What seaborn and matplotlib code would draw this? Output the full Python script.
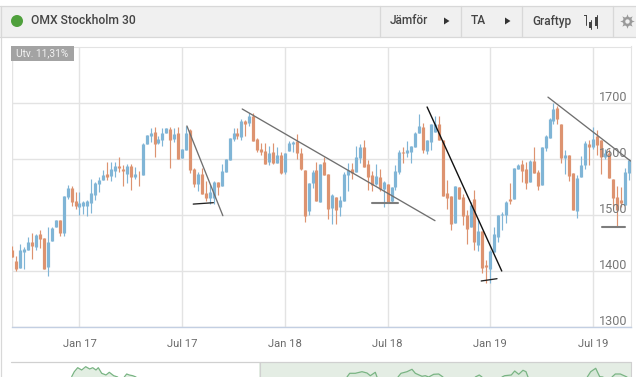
import matplotlib
matplotlib.use("Agg")
import matplotlib.pyplot as plt
from matplotlib.patches import Circle, Polygon, Rectangle
import numpy as np
import pandas as pd
import seaborn as sns

# Weekly candles, U = rising (blue), D = falling (orange)
moves = ("DDUUUDUDDU" "UUDUUDDUUU" "UUUUDUUDDU" "DUDUUUDUUU" "DUDUUDDUDD" "UUDUUUUDUD"
         "UDDDDUDUDU" "UUDDDUUDUD" "DUDUUUDUUD" "DDUDUDUUUD" "UUUUDUUUDD" "DDUDDDUDUD"
         "DUUUUUDUUD" "DUDDUUUUDD" "UDDUUUDUDD" "UDDDDUU")

highs = [1445, 1427, 1449, 1443, 1461, 1468, 1467, 1474, 1460, 1479,
         1479, 1492, 1492, 1535, 1554, 1552, 1542, 1542, 1526, 1527,
         1565, 1560, 1568, 1581, 1595, 1595, 1595, 1604, 1590, 1592,
         1592, 1586, 1579, 1629, 1643, 1656, 1658, 1642, 1656, 1656,
         1658, 1656, 1658, 1618, 1660, 1654, 1585, 1577, 1585, 1561,
         1556, 1561, 1560, 1592, 1601, 1638, 1656, 1656, 1672, 1670,
         1683, 1683, 1638, 1629, 1629, 1624, 1629, 1622, 1613, 1611,
         1633, 1633, 1645, 1620, 1581, 1558, 1581, 1595, 1592, 1604,
         1574, 1538, 1533, 1535, 1577, 1593, 1593, 1624, 1627, 1635,
         1599, 1579, 1592, 1583, 1561, 1556, 1551, 1590, 1617, 1622,
         1633, 1624, 1649, 1681, 1664, 1635, 1663, 1677, 1677, 1635,
         1563, 1535, 1552, 1551, 1538, 1510, 1524, 1545, 1492, 1472,
         1420, 1438, 1479, 1501, 1506, 1526, 1558, 1585, 1592, 1599,
         1595, 1599, 1622, 1581, 1622, 1643, 1674, 1701, 1695, 1663,
         1617, 1608, 1576, 1572, 1606, 1633, 1635, 1658, 1652, 1635,
         1618, 1618, 1565, 1552, 1551, 1585, 1601]

body_tops = [1438, 1418, 1438, 1440, 1452, 1452, 1465, 1467, 1460, 1452,
             1477, 1492, 1492, 1535, 1549, 1549, 1526, 1522, 1524, 1526,
             1540, 1558, 1563, 1572, 1574, 1583, 1588, 1588, 1583, 1588,
             1588, 1574, 1574, 1627, 1643, 1647, 1649, 1636, 1647, 1656,
             1654, 1645, 1647, 1618, 1647, 1652, 1583, 1574, 1574, 1540,
             1542, 1560, 1560, 1579, 1601, 1638, 1647, 1647, 1668, 1668,
             1677, 1677, 1636, 1618, 1615, 1611, 1613, 1608, 1608, 1611,
             1629, 1631, 1633, 1611, 1581, 1558, 1577, 1581, 1592, 1595,
             1574, 1536, 1533, 1527, 1574, 1581, 1583, 1604, 1622, 1622,
             1592, 1572, 1570, 1568, 1560, 1556, 1551, 1579, 1613, 1613,
             1617, 1624, 1647, 1660, 1658, 1635, 1663, 1663, 1663, 1635,
             1540, 1535, 1552, 1551, 1533, 1501, 1518, 1529, 1472, 1472,
             1411, 1436, 1467, 1501, 1502, 1523, 1529, 1585, 1590, 1592,
             1583, 1597, 1597, 1577, 1622, 1642, 1672, 1690, 1692, 1663,
             1608, 1608, 1576, 1567, 1590, 1629, 1627, 1636, 1642, 1635,
             1611, 1611, 1565, 1533, 1527, 1577, 1599]

body_bottoms = [1426, 1404, 1406, 1435, 1438, 1445, 1443, 1458, 1404, 1408,
                1454, 1479, 1468, 1468, 1533, 1524, 1517, 1515, 1517, 1517,
                1522, 1536, 1556, 1563, 1568, 1570, 1579, 1585, 1579, 1574,
                1568, 1568, 1573, 1572, 1627, 1642, 1627, 1629, 1635, 1647,
                1635, 1636, 1601, 1602, 1617, 1581, 1556, 1556, 1538, 1531,
                1531, 1531, 1551, 1552, 1577, 1599, 1636, 1642, 1640, 1663,
                1665, 1633, 1617, 1613, 1592, 1595, 1593, 1593, 1576, 1577,
                1615, 1627, 1611, 1583, 1499, 1508, 1558, 1526, 1524, 1572,
                1511, 1513, 1510, 1515, 1526, 1572, 1576, 1577, 1602, 1586,
                1568, 1554, 1556, 1547, 1547, 1524, 1526, 1551, 1577, 1612,
                1611, 1613, 1622, 1647, 1617, 1615, 1631, 1649, 1635, 1535,
                1531, 1485, 1486, 1529, 1499, 1476, 1479, 1452, 1447, 1406,
                1408, 1404, 1434, 1461, 1501, 1501, 1526, 1529, 1583, 1579,
                1558, 1560, 1576, 1552, 1554, 1620, 1638, 1668, 1672, 1602,
                1602, 1570, 1510, 1508, 1568, 1590, 1622, 1622, 1626, 1604,
                1604, 1567, 1531, 1510, 1522, 1518, 1576]

lows = [1426, 1401, 1406, 1404, 1438, 1422, 1438, 1442, 1404, 1392,
        1454, 1479, 1463, 1463, 1529, 1517, 1512, 1501, 1502, 1499,
        1504, 1527, 1542, 1563, 1563, 1561, 1568, 1577, 1552, 1558,
        1545, 1565, 1552, 1572, 1627, 1631, 1604, 1627, 1624, 1647,
        1585, 1631, 1601, 1602, 1617, 1576, 1551, 1543, 1538, 1526,
        1521, 1521, 1536, 1552, 1577, 1599, 1633, 1636, 1635, 1642,
        1660, 1633, 1613, 1608, 1592, 1590, 1592, 1593, 1574, 1574,
        1615, 1613, 1601, 1581, 1488, 1501, 1549, 1526, 1524, 1572,
        1493, 1485, 1484, 1499, 1526, 1543, 1565, 1577, 1593, 1586,
        1545, 1543, 1554, 1543, 1515, 1522, 1522, 1545, 1574, 1593,
        1604, 1593, 1622, 1647, 1611, 1609, 1617, 1649, 1635, 1535,
        1511, 1474, 1486, 1529, 1483, 1449, 1479, 1438, 1437, 1397,
        1379, 1379, 1434, 1452, 1474, 1486, 1520, 1529, 1583, 1560,
        1547, 1560, 1576, 1545, 1554, 1615, 1638, 1663, 1663, 1593,
        1574, 1561, 1510, 1495, 1568, 1583, 1590, 1618, 1608, 1574,
        1601, 1567, 1517, 1479, 1515, 1518, 1563]

tick_weeks = [17, 43, 69, 95, 121, 147]
tick_labels = ["Jan 17", "Jul 17", "Jan 18", "Jul 18", "Jan 19", "Jul 19"]
price_levels = [1300, 1400, 1500, 1600, 1700]

# Hand drawn trend lines: (week, price) pairs
gray_trends = [([44.2, 53.3], [1659.5, 1499.3]),
               ([58.2, 107.0], [1689.8, 1490.4]),
               ([135.6, 156.5], [1711.0, 1597.0])]
black_trend = ([105.0, 123.9], [1693.4, 1400.5])
dark_supports = [([45.8, 50.9], [1520.0, 1522.5]),
                 ([118.7, 122.7], [1382.7, 1386.8])]
gray_supports = [([91.0, 97.6], [1522.5, 1522.5]),
                 ([149.3, 155.1], [1479.0, 1479.0])]

# Overview strip below the chart, pieces of the line that show above the crop
nav_pieces = [
    ([60.7, 63.3, 66.7, 70.7, 74.7, 78.7, 81.7, 85.0, 87.3, 90.7, 95.0, 98.3, 102.7, 106.7],
     [0.3, 5.3, 9.3, 7.0, 10.3, 8.0, 9.3, 7.0, 9.3, 3.7, 2.0, 4.7, 1.3, 0.0]),
    ([113.3, 115.7, 118.3, 121.7, 125.0], [0.0, 3.0, 2.0, 1.3, 0.0]),
    ([336.0, 338.7, 344.3, 351.0, 356.0, 359.3, 364.3, 366.0],
     [0.0, 3.7, 3.7, 5.3, 4.0, 1.3, 4.7, 0.0]),
    ([387.0, 390.0, 396.0, 401.0, 404.3, 411.0, 414.3, 417.7, 422.7, 427.7, 432.0],
     [0.0, 3.7, 5.3, 7.7, 3.7, 0.7, 1.3, 0.0, 2.7, 3.0, 0.0]),
    ([464.3, 468.3, 471.0], [0.0, 2.0, 0.0]),
    ([491.0, 493.7, 500.3, 503.7, 507.7, 512.0, 515.0, 517.0],
     [0.0, 1.3, 2.0, 6.0, 2.7, 6.7, 5.3, 0.0]),
    ([576.3, 579.7, 584.7, 588.7, 592.0], [0.0, 5.3, 8.7, 0.3, 0.0]),
    ([601.0, 604.3, 609.3, 616.0], [0.0, 3.0, 3.0, 0.0]),
]
nav_window_start = 248

BLUE = "#80b5d6"
ORANGE = "#dd9370"
GRID = "#e3e3e3"

sns.set_theme(style="white")
plt.rcParams["font.family"] = ["Roboto", "DejaVu Sans"]

W, H = 636, 377
fig = plt.figure(figsize=(W / 100, H / 100), dpi=100, facecolor="white")

# Candle frame, placed by pixels
left, right, top, bottom = 12.0, 631.0, 46.5, 327.3
ax = fig.add_axes([left / W, 1 - bottom / H, (right - left) / W, (bottom - top) / H])

week = np.arange(len(moves))
direction = list(moves)
wicks = pd.DataFrame({
    "week": np.r_[week, week],
    "price": np.r_[highs, lows],
    "move": direction + direction,
})
bodies = pd.DataFrame({
    "week": np.r_[week, week],
    "price": np.r_[body_tops, body_bottoms],
    "move": direction + direction,
})
palette = {"U": BLUE, "D": ORANGE}
for frame, width in ((wicks, 0.85), (bodies, 2.3)):
    sns.lineplot(data=frame, x="week", y="price", hue="move", units="week",
                 estimator=None, palette=palette, linewidth=width, legend=False,
                 solid_capstyle="butt", ax=ax, zorder=3)

for xs, ys in gray_trends:
    ax.plot(xs, ys, color="#6f6f6f", lw=0.95, zorder=4)
ax.plot(*black_trend, color="#111111", lw=1.0, zorder=4)
for xs, ys in dark_supports:
    ax.plot(xs, ys, color="#222222", lw=0.95, zorder=4)
for xs, ys in gray_supports:
    ax.plot(xs, ys, color="#7d7d7d", lw=1.5, zorder=4)

ax.set_xlim(-0.08, 156.62)
ax.set_ylim(1300, 1801.4)
ax.set_xticks(tick_weeks, tick_labels)
ax.set_yticks(price_levels)
ax.set_xlabel("")
ax.set_ylabel("")
ax.tick_params(axis="y", left=False, labelleft=False)
ax.tick_params(axis="x", bottom=False, pad=2.3, labelsize=8.1, labelcolor="#6b6b6b")
ax.grid(True, color=GRID, lw=1.0)
ax.axvline(0.0, color=GRID, lw=1.0, zorder=1)
ax.set_axisbelow(True)
for side in ("top", "right"):
    ax.spines[side].set_color(GRID)
    ax.spines[side].set_linewidth(0.8)
ax.spines["left"].set_visible(False)
ax.spines["bottom"].set_color("#c3cfe2")
ax.spines["bottom"].set_linewidth(1.0)

for level in price_levels:
    ax.annotate(str(level), xy=(1, level), xycoords=("axes fraction", "data"),
                xytext=(-2.3, 4.3), textcoords="offset points", ha="right", va="center",
                fontsize=9.1, color="#777777", zorder=6, annotation_clip=False)

# Overview strip
nav = fig.add_axes([11 / W, 0, 620 / W, 15 / H])
nav.axis("off")
nav.add_patch(Rectangle((nav_window_start, 0), 372, 15, fc="#e4ede4", ec="none", zorder=1))
for xs, ys in nav_pieces:
    nav.fill_between(xs, ys, 0, color="#cfe3d0", alpha=0.6, lw=0, zorder=2)
    sns.lineplot(x=xs, y=ys, estimator=None, sort=False, color="#79b483", linewidth=0.9, ax=nav, zorder=3)
nav.set_xlim(0, 620)
nav.set_ylim(0, 15)

# Page furniture on a full figure overlay, in pixels
ui = fig.add_axes([0, 0, 1, 1], zorder=5)
ui.set_xlim(0, W)
ui.set_ylim(H, 0)
ui.axis("off")
ui.patch.set_alpha(0)

ui.add_patch(Rectangle((0, 5.5), W, 31, fc="#f0f0f0", ec="none"))
ui.plot([0, W], [5.5, 5.5], color="#d8d8d8", lw=0.9)
ui.plot([0, W], [36.5, 36.5], color="#d8d8d8", lw=0.9)
ui.plot([0.6, 0.6], [5.5, H], color="#d8d8d8", lw=0.9)
for x in (379.5, 460.5, 521.5, 612.5):
    ui.plot([x, x], [5.5, 36.5], color="#d8d8d8", lw=0.9)
ui.plot([11, 631], [362.3, 362.3], color="#d0d0d0", lw=0.9)
ui.plot([259.5, 259.5], [362.3, H], color="#d0d0d0", lw=0.8)
ui.plot([630.8, 630.8], [362.3, H], color="#d0d0d0", lw=0.8)

ui.add_patch(Circle((17, 21), 6, fc="#4fa03c", ec="none"))
ui.text(31, 21, "OMX Stockholm 30", fontsize=8.7, fontweight="medium", color="#444444", va="center")
ui.text(390, 21, "Jämför", fontsize=8.6, fontweight="medium", color="#444444", va="center")
ui.text(471, 21, "TA", fontsize=8.6, fontweight="medium", color="#444444", va="center")
ui.text(532, 21, "Graftyp", fontsize=8.6, fontweight="medium", color="#444444", va="center")
for x in (444, 505):
    ui.add_patch(Polygon([(x, 17.5), (x, 24.5), (x + 5.5, 21)], fc="#333333", ec="none"))

# Candlestick glyph
for x, y0, y1, b0, b1 in ((585.5, 15, 25, 15, 16), (590.5, 20, 29, 22, 28), (596.5, 15, 28, 17, 26)):
    ui.plot([x, x], [y0, y1], color="#444444", lw=0.7)
    ui.add_patch(Rectangle((x - 1.1, b0), 2.2, b1 - b0, fc="#444444", ec="none"))
# Gear glyph
ui.scatter([627], [21], s=110, marker=(8, 1, 0), color="#9a9a9a", lw=0)
ui.scatter([627], [21], s=45, marker="o", color="#9a9a9a", lw=0)
ui.scatter([627], [21], s=10, marker="o", color="#f0f0f0", lw=0)

ui.add_patch(Rectangle((11, 46), 63, 15, fc="#a3a3a3", ec="none"))
ui.text(16, 53.7, "Utv. 11,31%", fontsize=7.3, color="#f2f2f2", va="center")

fig.savefig("out.png", dpi=100)
